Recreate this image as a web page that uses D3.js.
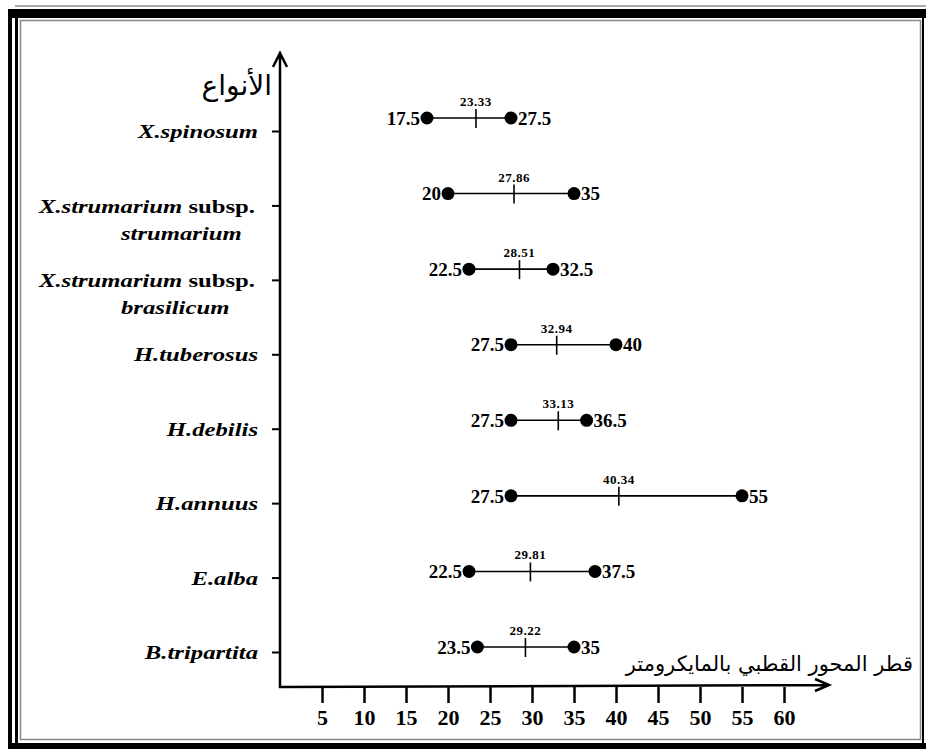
<!DOCTYPE html>
<html>
<head>
<meta charset="utf-8">
<script src="https://d3js.org/d3.v7.min.js"></script>
<style>
  body { margin: 0; background: #fff; }
  svg { display: block; }
  text { white-space: pre; }
</style>
</head>
<body>
<div id="chart"></div>
<script>
// species, top to bottom
const species = [
  "X.spinosum",
  "X.strumarium subsp. strumarium",
  "X.strumarium subsp. brasilicum",
  "H.tuberosus",
  "H.debilis",
  "H.annuus",
  "E.alba",
  "B.tripartita"
];
// polar axis diameter (micrometre): min, max, mean
const minVals  = [17.5, 20, 22.5, 27.5, 27.5, 27.5, 22.5, 23.5];
const maxVals  = [27.5, 35, 32.5, 40, 36.5, 55, 37.5, 35];
const meanVals = [23.33, 27.86, 28.51, 32.94, 33.13, 40.34, 29.81, 29.22];
const xTicks = [5, 10, 15, 20, 25, 30, 35, 40, 45, 50, 55, 60];

const yTitle = "الأنواع";
const xTitle = "قطر المحور القطبي بالمايكرومتر";

const serif = "'Liberation Serif', 'Times New Roman', serif";
const arabic = "'DejaVu Sans', sans-serif";

const width = 926, height = 749;

const svg = d3.select("#chart")
  .append("svg")
  .attr("width", width)
  .attr("height", height);

svg.append("rect").attr("width", width).attr("height", height).attr("fill", "#fff");

// frame (double border like the scanned figure)
svg.append("line").attr("x1", 15).attr("x2", 926).attr("y1", 6).attr("y2", 6)
  .attr("stroke", "#555").attr("stroke-width", 1);
svg.append("rect").attr("x", 8).attr("y", 9).attr("width", 918).attr("height", 9).attr("fill", "#000");
svg.append("rect").attr("x", 8).attr("y", 9).attr("width", 4).attr("height", 740).attr("fill", "#000");
svg.append("rect").attr("x", 15).attr("y", 9).attr("width", 3).attr("height", 740).attr("fill", "#000");
svg.append("rect").attr("x", 8).attr("y", 743).attr("width", 918).attr("height", 6).attr("fill", "#000");
svg.append("rect").attr("x", 922).attr("y", 9).attr("width", 2).attr("height", 740).attr("fill", "#000");
svg.append("rect").attr("x", 20.5).attr("y", 20.5).attr("width", 900).attr("height", 719)
  .attr("fill", "none").attr("stroke", "#888").attr("stroke-width", 1.5);

// Scales
const x = d3.scaleLinear().domain([0, 60]).range([280, 784]);
const yRow = d3.scalePoint().domain(species).range([118, 647]);   // data rows
const yLab = d3.scalePoint().domain(species).range([131, 652]);   // axis ticks/labels

const rows = species.map((s, i) => ({ name: s, lo: minVals[i], hi: maxVals[i], mean: meanVals[i] }));

// Y axis with species names
const yAxis = svg.append("g")
  .attr("transform", "translate(280,0)")
  .call(d3.axisLeft(yLab).tickSize(8).tickFormat(""));
yAxis.select(".domain").remove();
yAxis.selectAll(".tick line").attr("stroke", "#000").attr("stroke-width", 2);

const sx = 1.3; // names are drawn wide in the original
yAxis.selectAll(".tick").each(function(name) {
  const tick = d3.select(this);
  const parts = name.split(" subsp. ");
  const t = tick.append("text")
    .attr("fill", "#000")
    .attr("font-family", serif)
    .attr("font-weight", "bold")
    .attr("font-size", 19)
    .attr("text-anchor", "end")
    .attr("transform", `scale(${sx},1)`)
    .attr("x", (parts.length > 1 ? -25 : -22) / sx)
    .attr("dy", "0.35em");
  t.append("tspan").attr("font-style", "italic").text(parts[0]);
  if (parts.length > 1) {
    t.append("tspan").text(" subsp.");
    tick.append("text")
      .attr("fill", "#000")
      .attr("font-family", serif)
      .attr("font-weight", "bold")
      .attr("font-style", "italic")
      .attr("font-size", 19)
      .attr("text-anchor", "start")
      .attr("transform", `scale(${sx},1)`)
      .attr("x", -159 / sx)
      .attr("y", 27)
      .attr("dy", "0.35em")
      .text(parts[1]);
  }
});

// X axis ticks
const xAxis = svg.append("g")
  .attr("transform", "translate(0,687)")
  .call(d3.axisBottom(x).tickValues(xTicks).tickSize(16).tickPadding(6));
xAxis.select(".domain").remove();
xAxis.selectAll(".tick line").attr("stroke", "#000").attr("stroke-width", 2.5);
xAxis.selectAll(".tick text")
  .attr("fill", "#000")
  .attr("font-family", serif)
  .attr("font-weight", "bold")
  .attr("font-size", 22);

// axis lines with open arrows
svg.append("path")
  .attr("d", "M280,688 L280,54 M273,67 L280,53 L287,67")
  .attr("fill", "none").attr("stroke", "#000").attr("stroke-width", 2.5)
  .attr("stroke-linejoin", "miter");
svg.append("path")
  .attr("d", "M279,687 L828,685 M815,679 L829,685 L815,691")
  .attr("fill", "none").attr("stroke", "#000").attr("stroke-width", 2.5);

// axis titles
svg.append("text")
  .attr("x", 272).attr("y", 95)
  .attr("text-anchor", "end")
  .attr("font-family", arabic)
  .attr("font-size", 28)
  .attr("fill", "#000")
  .text(yTitle);

svg.append("text")
  .attr("x", 913).attr("y", 671)
  .attr("text-anchor", "end")
  .attr("font-family", arabic)
  .attr("font-size", 21)
  .attr("fill", "#000")
  .text(xTitle);

// Range lines
const g = svg.append("g");
g.selectAll("line.range")
  .data(rows)
  .join("line")
  .attr("class", "range")
  .attr("x1", d => x(d.lo)).attr("x2", d => x(d.hi))
  .attr("y1", d => yRow(d.name)).attr("y2", d => yRow(d.name))
  .attr("stroke", "#000").attr("stroke-width", 1.6);

// Mean tick
g.selectAll("line.mean")
  .data(rows)
  .join("line")
  .attr("class", "mean")
  .attr("x1", d => x(d.mean)).attr("x2", d => x(d.mean))
  .attr("y1", d => yRow(d.name) - 9).attr("y2", d => yRow(d.name) + 10)
  .attr("stroke", "#000").attr("stroke-width", 1.6);

// end dots
g.selectAll("circle.lo")
  .data(rows)
  .join("circle")
  .attr("class", "lo")
  .attr("cx", d => x(d.lo)).attr("cy", d => yRow(d.name)).attr("r", 6.5)
  .attr("fill", "#000");
g.selectAll("circle.hi")
  .data(rows)
  .join("circle")
  .attr("class", "hi")
  .attr("cx", d => x(d.hi)).attr("cy", d => yRow(d.name)).attr("r", 6.5)
  .attr("fill", "#000");

// value labels
g.selectAll("text.lo")
  .data(rows)
  .join("text")
  .attr("class", "lo")
  .attr("x", d => x(d.lo) - 7)
  .attr("y", d => yRow(d.name))
  .attr("dy", "0.35em")
  .attr("text-anchor", "end")
  .attr("font-family", serif).attr("font-weight", "bold").attr("font-size", 19)
  .text(d => d.lo);
g.selectAll("text.hi")
  .data(rows)
  .join("text")
  .attr("class", "hi")
  .attr("x", d => x(d.hi) + 7)
  .attr("y", d => yRow(d.name))
  .attr("dy", "0.35em")
  .attr("text-anchor", "start")
  .attr("font-family", serif).attr("font-weight", "bold").attr("font-size", 19)
  .text(d => d.hi);
g.selectAll("text.mean")
  .data(rows)
  .join("text")
  .attr("class", "mean")
  .attr("x", d => x(d.mean))
  .attr("y", d => yRow(d.name) - 12)
  .attr("text-anchor", "middle")
  .attr("font-family", serif).attr("font-weight", "bold").attr("font-size", 13)
  .attr("letter-spacing", 0.5)
  .text(d => d.mean.toFixed(2));
</script>
</body>
</html>
